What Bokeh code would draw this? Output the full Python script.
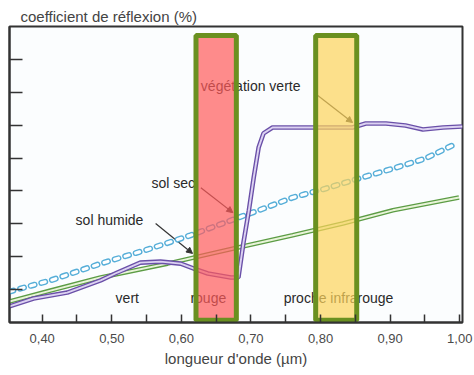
from bokeh.plotting import figure
from bokeh.models import Range1d, FixedTicker, Arrow, NormalHead, CustomJSTickFormatter
from bokeh.core.properties import value
from bokeh.embed import file_html
from bokeh.resources import INLINE

# wavelength (µm) and reflectance (%)
veg_x = [0.353, 0.3875, 0.436, 0.484, 0.508, 0.541, 0.570, 0.599, 0.618, 0.638, 0.671, 0.682,
         0.689, 0.697, 0.704, 0.711, 0.718, 0.731, 0.760, 0.846, 0.865, 0.894, 0.922, 0.947, 0.976, 1.004]
veg_y = [4.9, 7.3, 9.1, 12.8, 15.2, 18.2, 18.5, 17.9, 16.4, 14.9, 13.7, 13.7,
         24.0, 34.1, 44.1, 53.2, 57.5, 59.3, 59.3, 59.3, 60.5, 60.5, 59.9, 58.7, 59.3, 59.6]

sec_x = [0.353, 0.412, 0.484, 0.556, 0.613, 0.682, 0.711, 0.760, 0.807, 0.855, 0.904, 0.951, 0.995]
sec_y = [9.4, 12.8, 17.9, 22.5, 26.5, 31.9, 34.1, 38.0, 40.7, 43.8, 46.8, 49.9, 54.4]

hum_x = [0.353, 0.412, 0.484, 0.580, 0.675, 0.760, 0.832, 0.904, 0.999]
hum_y = [6.4, 9.7, 13.7, 17.9, 22.5, 26.5, 30.1, 34.1, 38.0]

x_ticks = [0.4, 0.5, 0.6, 0.7, 0.8, 0.9, 1.0]
x_tick_labels = ["0,40", "0,50", "0,60", "0,70", "0,80", "0,90", "1,00"]
x_minor = [0.45, 0.55, 0.65, 0.75, 0.85, 0.95]
y_ticks = [10, 20, 30, 40, 50, 60, 70, 80]

band_left = [0.621, 0.793]
band_right = [0.679, 0.852]
band_colors = ["#ff5a5a", "#fcd35a"]

labels_text = ["végétation verte", "sol sec", "sol humide", "vert", "rouge", "proche infrarouge"]
labels_x = [0.628, 0.557, 0.448, 0.5055, 0.613, 0.747]
labels_y = [72.0, 42.3, 31.3, 7.4, 7.4, 7.4]

arrows = [  # (x_start, y_start, x_end, y_end)
    (0.796, 69.0, 0.846, 60.8),
    (0.628, 41.0, 0.674, 33.4),
    (0.563, 30.1, 0.616, 21.0),
]

FONT = "Liberation Sans"

p = figure(frame_width=453, frame_height=296,
           x_range=Range1d(0.353, 1.004), y_range=Range1d(0, 90),
           output_backend="svg", toolbar_location=None,
           min_border_left=9, min_border_right=12, min_border_top=26, min_border_bottom=53)

p.background_fill_color = "#fbfdfe"
p.border_fill_color = "white"
p.outline_line_color = "#333333"
p.outline_line_width = 2
p.grid.visible = False

p.title.text = "coefficient de réflexion (%)"
p.title.align = "left"
p.title.offset = 11
p.title.text_font = FONT
p.title.text_font_size = "15px"
p.title.text_font_style = "normal"
p.title.text_color = "#444444"
p.title.standoff = 3

xa = p.xaxis[0]
xa.ticker = FixedTicker(ticks=x_ticks, minor_ticks=x_minor)
xa.major_label_overrides = dict(zip(x_ticks, x_tick_labels))
xa.major_tick_in = 8
xa.major_tick_out = 0
xa.minor_tick_in = 8
xa.minor_tick_out = 0
xa.major_tick_line_color = "#333333"
xa.minor_tick_line_color = "#333333"
xa.major_tick_line_width = 1.5
xa.minor_tick_line_width = 1.5
xa.axis_line_color = "#333333"
xa.axis_line_width = 2
xa.major_label_standoff = 11
xa.major_label_text_font = FONT
xa.major_label_text_font_size = "13px"
xa.major_label_text_color = "#4a4a4a"
xa.axis_label = "longueur d'onde (µm)"
xa.axis_label_text_font = FONT
xa.axis_label_text_font_size = "15px"
xa.axis_label_text_font_style = "normal"
xa.axis_label_text_color = "#444444"
xa.axis_label_standoff = 4

ya = p.yaxis[0]
ya.ticker = FixedTicker(ticks=y_ticks, minor_ticks=[])
ya.formatter = CustomJSTickFormatter(code="return ''")
ya.major_tick_in = 13
ya.major_tick_out = 0
ya.major_tick_line_color = "#333333"
ya.major_tick_line_width = 1.5
ya.axis_line_color = "#333333"
ya.axis_line_width = 2
ya.major_label_standoff = 0
ya.minor_tick_line_color = None

# arrows beneath everything
for (xs, ys, xe, ye) in arrows:
    p.add_layout(Arrow(x_start=xs, y_start=ys, x_end=xe, y_end=ye,
                       line_color="#333333", line_width=1.2, level="underlay",
                       end=NormalHead(size=6, fill_color="#333333", line_color="#333333")))

# sol humide: green double line
p.line(hum_x, hum_y, line_color="#5c9c45", line_width=4.6)
p.line(hum_x, hum_y, line_color="#e8f4d8", line_width=2.0)

# sol sec: chain of small blue ovals
p.line(sec_x, sec_y, line_color="#56aed8", line_width=6, line_dash="4 7", line_cap="round")
p.line(sec_x, sec_y, line_color="white", line_width=3.2, line_dash="4 7", line_cap="round")

# végétation verte: purple double line
p.line(veg_x, veg_y, line_color="#6a50a8", line_width=4.6)
p.line(veg_x, veg_y, line_color="#dcd2f2", line_width=1.9)

p.text(x=labels_x, y=labels_y, text=labels_text, text_font=value(FONT),
       text_font_size="14px", text_baseline="middle", text_align="left",
       text_color="#2a2a2a")

# highlighted bands on top
p.quad(left=band_left, right=band_right, bottom=0.7, top=87.3,
       fill_color=band_colors, fill_alpha=0.7,
       line_color="#6a9020", line_width=5)

open("out.html", "w").write(file_html(p, INLINE))
